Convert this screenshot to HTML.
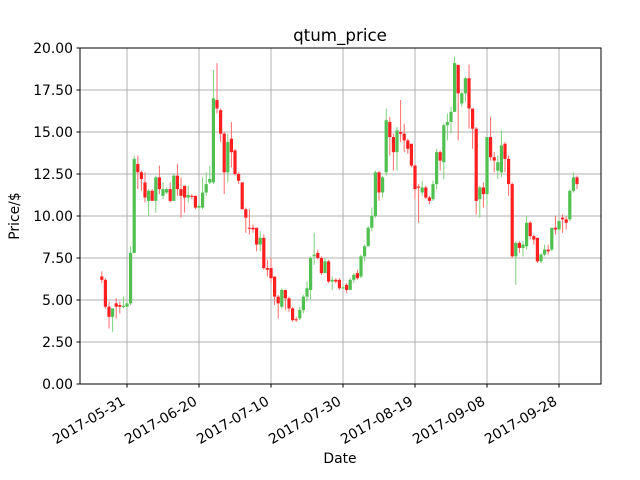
<!DOCTYPE html>
<html><head><meta charset="utf-8"><style>
html,body{margin:0;padding:0;background:#fff;}
svg{display:block;font-family:"DejaVu Sans","Liberation Sans",sans-serif;}
</style></head><body>
<svg id="chart" width="640" height="480" viewBox="0 0 640 480" xmlns="http://www.w3.org/2000/svg">
<rect x="0" y="0" width="640" height="480" fill="#fff"/>
<g id="grid"></g>
<g id="candles"></g>
<rect x="80" y="48" width="521" height="336" fill="none" stroke="#000" stroke-width="1"/>
<g id="axes"></g>
<text x="340" y="41" text-anchor="middle" font-size="16.7">qtum_price</text>
<text x="340" y="463" text-anchor="middle" font-size="13.9">Date</text>
<text x="19" y="216" text-anchor="middle" font-size="13.9" transform="rotate(-90 19 216)">Price/$</text>
</svg>
<script>
// day offsets from 2017-05-31
const days = [-7,-6,-5,-4,-3,-2,-1,0,1,2,3,4,5,6,7,8,9,10,11,12,13,14,15,16,17,18,19,20,21,22,23,24,25,26,27,28,29,30,31,32,33,34,35,36,37,38,39,40,41,42,43,44,45,46,47,48,49,50,51,52,53,54,55,56,57,58,59,60,61,62,63,64,65,66,67,68,69,70,71,72,73,74,75,76,77,78,79,80,81,82,83,84,85,86,87,88,89,90,91,92,93,94,95,96,97,98,99,100,101,102,103,104,105,106,107,108,109,110,111,112,113,114,115,116,117,118,119,120,121,122,123,124,125];
const opens = [6.4,6.2,4.6,4.0,4.8,4.7,4.6,4.6,4.8,7.8,13.1,12.6,12.0,10.9,11.5,10.9,12.3,11.2,11.4,11.6,10.9,12.4,11.6,11.8,11.1,11.2,11.2,10.5,10.5,11.4,12.0,12.0,16.9,16.3,14.9,12.6,14.6,13.9,12.5,12.0,10.4,9.3,9.3,9.3,8.3,8.7,6.9,6.9,6.4,5.2,4.6,5.6,5.1,4.5,3.85,3.9,4.4,5.2,5.6,7.6,7.8,7.5,6.6,7.3,6.1,6.2,6.2,5.7,5.9,5.6,6.2,6.6,6.4,7.6,8.2,9.3,10.0,12.6,11.4,12.6,15.6,14.7,13.8,15.0,14.9,14.5,14.3,13.0,11.75,11.4,11.7,11.1,11.0,11.9,13.8,13.2,15.4,15.6,16.2,19.0,16.7,17.3,18.2,16.4,15.2,11.0,11.7,11.3,14.7,13.5,12.7,12.6,14.3,13.4,11.9,7.6,8.4,8.1,8.2,9.6,8.8,8.7,7.3,7.7,8.0,8.0,9.3,9.2,9.9,9.8,9.8,11.5,12.3,11.9];
const closes = [6.2,4.6,4.0,4.5,4.6,4.6,4.65,4.8,7.8,13.4,12.6,12.2,11.1,11.5,10.9,12.3,11.6,11.6,11.6,10.9,12.4,11.6,11.2,11.1,11.25,11.15,10.5,10.6,11.4,11.9,12.2,17.0,16.4,14.9,12.6,14.4,13.8,12.5,12.1,10.4,9.9,9.25,9.2,8.3,8.7,6.9,6.8,6.3,5.2,4.8,5.6,5.1,4.5,3.8,3.8,4.4,5.2,5.7,7.5,7.7,7.5,6.6,7.3,6.1,6.2,6.1,5.7,5.75,5.6,6.2,6.5,6.3,7.6,8.2,9.3,10.0,12.6,11.4,12.3,15.7,14.7,13.8,15.1,14.9,14.5,14.0,13.0,11.6,11.7,11.7,11.1,10.9,11.9,13.8,13.3,15.4,15.6,16.2,19.1,17.3,17.3,18.2,16.4,15.2,10.9,11.7,11.3,14.7,13.5,13.3,13.2,14.2,13.4,11.9,7.6,8.4,8.1,8.3,9.6,8.8,8.6,7.3,7.7,8.0,7.9,9.3,9.2,9.7,9.8,9.6,11.5,12.3,11.9,12.1];
const highs = [6.7,6.3,4.9,4.5,5.1,4.9,5.2,4.9,8.2,13.6,13.6,12.7,12.6,11.6,11.6,12.4,13.0,12.0,11.7,12.0,12.5,13.1,12.3,11.8,11.8,11.3,11.2,10.8,12.3,12.6,13.0,18.7,19.1,16.4,15.0,14.9,15.6,14.0,12.6,12.0,10.5,10.4,9.5,9.3,9.1,8.9,7.4,7.5,6.4,5.3,5.7,5.6,5.2,4.6,4.0,4.6,5.3,6.1,7.6,9.0,8.0,7.6,7.5,7.4,6.4,6.3,6.3,5.9,6.0,6.3,6.6,6.8,7.7,8.3,9.4,10.5,12.7,12.7,12.4,16.4,15.9,14.9,15.3,16.9,15.5,14.6,14.3,13.1,11.9,12.1,11.8,11.2,12.1,14.0,13.9,15.5,16.1,16.5,19.5,19.0,17.4,18.3,19.0,16.4,15.3,11.8,12.0,14.7,15.9,13.8,13.6,15.1,14.4,13.6,12.0,8.5,8.5,8.5,10.0,9.7,8.9,8.7,7.8,8.3,8.3,9.3,10.0,9.8,10.1,10.0,11.6,12.6,12.4,12.1];
const lows = [6.0,4.5,3.3,3.1,3.9,4.2,4.5,4.5,4.7,7.8,11.6,11.5,10.8,10.0,10.9,10.2,11.3,11.0,11.3,10.8,10.9,11.2,9.9,10.2,10.8,11.0,10.4,10.4,10.4,11.2,11.9,11.9,16.1,14.4,11.3,12.0,12.9,12.4,11.9,10.4,9.0,8.9,9.0,7.9,7.9,6.8,6.4,6.0,4.7,3.9,4.5,4.4,4.3,3.7,3.7,3.8,4.2,4.9,5.0,7.1,7.4,6.5,6.6,6.0,5.6,6.0,5.6,5.6,5.4,5.6,6.0,6.2,6.3,7.3,8.2,9.1,9.9,10.9,11.1,12.4,13.6,12.7,12.7,14.4,13.8,13.7,12.9,11.0,9.6,11.2,11.0,10.7,10.9,11.6,12.7,12.2,14.5,14.9,16.2,14.5,16.5,16.8,15.2,14.0,10.1,9.9,10.5,10.6,13.3,12.6,12.2,12.3,12.6,11.2,7.5,5.9,7.8,7.6,8.0,8.6,8.3,7.2,7.2,7.6,7.7,7.9,8.9,9.1,9.0,9.2,9.7,11.4,11.6,10.8];
const yTicks = [0,2.5,5,7.5,10,12.5,15,17.5,20];
const xTickDays = [0,20,40,60,80,100,120];
const xTickLabels = ["2017-05-31","2017-06-20","2017-07-10","2017-07-30","2017-08-19","2017-09-08","2017-09-28"];

const NS = "http://www.w3.org/2000/svg";
function xs(d){ return 127 + d*3.6; }
function ys(v){ return 384 - v*16.8; }
function mk(tag, attrs, parent){
  const e = document.createElementNS(NS, tag);
  for (const k in attrs) e.setAttribute(k, attrs[k]);
  parent.appendChild(e);
  return e;
}
const grid = document.getElementById('grid');
const axes = document.getElementById('axes');
const candles = document.getElementById('candles');

yTicks.forEach(v => {
  const y = ys(v);
  const gl = mk('line', {x1:80, x2:601, y1:y, y2:y, stroke:'#b0b0b0', 'stroke-width':1}, grid);
  
  
  const tk = mk('line', {x1:76.5, x2:80, y1:y, y2:y, stroke:'#000', 'stroke-width':1}, axes);
  
  
  const t = mk('text', {x:73, y:y+5, 'text-anchor':'end', 'font-size':13.9}, axes);
  t.textContent = v.toFixed(2);
  
  
});
xTickDays.forEach((d, i) => {
  const x = xs(d);
  const gl = mk('line', {x1:x, x2:x, y1:48, y2:384, stroke:'#b0b0b0', 'stroke-width':1}, grid);
  
  
  const tk = mk('line', {x1:x, x2:x, y1:384, y2:387.5, stroke:'#000', 'stroke-width':1}, axes);
  
  
  const t = mk('text', {x:x-1, y:404, 'text-anchor':'end', 'font-size':13.9, transform:'rotate(-30 '+(x-1)+' 404)'}, axes);
  t.textContent = xTickLabels[i];
  
  
});
days.forEach((d, i) => {
  const o = opens[i], c = closes[i];
  const up = c >= o;
  const col = up ? '#50c050' : '#ff1f1f';
  const wcol = up ? '#7fd17f' : '#ff6b6b';
  const x = xs(d);
  const w = mk('line', {x1:x, x2:x, y1:ys(highs[i]), y2:ys(lows[i]), stroke:wcol, 'stroke-width':1}, candles);
  
  
  const top = ys(Math.max(o, c)), bot = ys(Math.min(o, c));
  const b = mk('rect', {x:x-1.6, y:top, width:3.2, height:Math.max(1, bot-top), fill:col}, candles);
  
  
});
</script>
</body></html>
